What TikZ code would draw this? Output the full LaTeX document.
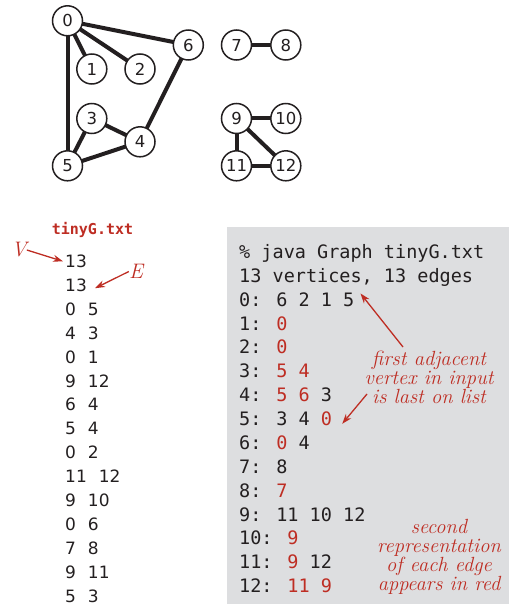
\documentclass[tikz,border=0pt]{standalone}
\usepackage{fontspec}
\newfontfamily\gsans{DejaVu Sans}
\newfontfamily\gmono{DejaVu Sans Mono}
\usetikzlibrary{arrows.meta}
\definecolor{bookred}{RGB}{190,45,35}
\definecolor{boxgray}{RGB}{221,222,224}
\definecolor{ink}{RGB}{35,31,32}
\pgfdeclarelayer{bg}
\pgfsetlayers{bg,main}
\newcommand{\rd}[1]{\textcolor{bookred}{#1}}
\begin{document}
\begin{tikzpicture}[x=1pt,y=-1pt,
  vtx/.style={circle,draw=ink,line width=1.5pt,fill=white,minimum size=30pt,inner sep=0pt,
    text=ink,font=\gsans\fontsize{16.5}{18}\selectfont},
  edge/.style={draw=ink,line width=4pt},
  listline/.style={anchor=base west,inner sep=0pt,text=ink,font=\gsans\fontsize{17}{19}\selectfont},
  boxline/.style={anchor=base west,inner sep=0pt,text=ink,font=\gmono\fontsize{18.5}{20}\selectfont},
  ann/.style={align=center,inner sep=0pt,text=bookred,font=\fontsize{20.5}{19}\selectfont\itshape},
  lbl/.style={inner sep=0pt,text=bookred,font=\fontsize{21}{22}\selectfont\itshape},
  redarrow/.style={draw=bookred,line width=1.3pt,-{Stealth[length=10pt,width=7pt]}}
]
\useasboundingbox (0,0) rectangle (512,607);

% graph
\node[vtx] (n0) at (67.5,20.8) {0};
\node[vtx] (n1) at (91.8,69) {1};
\node[vtx] (n2) at (140,69) {2};
\node[vtx] (n3) at (91.8,118.5) {3};
\node[vtx] (n4) at (140,141.8) {4};
\node[vtx] (n5) at (67.5,165.8) {5};
\node[vtx] (n6) at (188.3,45) {6};
\node[vtx] (n7) at (236.5,45) {7};
\node[vtx] (n8) at (285.8,45) {8};
\node[vtx] (n9) at (236.5,118.5) {9};
\node[vtx] (n10) at (285.8,118.5) {10};
\node[vtx] (n11) at (236.5,165.8) {11};
\node[vtx] (n12) at (285.8,165.8) {12};
\begin{pgfonlayer}{bg}
\foreach \u/\v in {0/5,4/3,0/1,9/12,6/4,5/4,0/2,11/12,9/10,0/6,7/8,9/11,5/3}
  \draw[edge] (n\u.center) -- (n\v.center);
\end{pgfonlayer}

% input file
\node[inner sep=0pt,text=bookred,font=\gmono\bfseries\fontsize{15}{17}\selectfont] (fname) at (92.5,230) {tinyG.txt};
\node[listline] (l1) at (65,267.5) {13};
\node[listline] (l2) at (65,291.4) {13};
\foreach \a/\b [count=\i from 3] in {0/5,4/3,0/1,9/12,6/4,5/4,0/2,11/12,9/10,0/6,7/8,9/11,5/3}
  \node[listline] (l\i) at (65,{267.5+23.9*(\i-1)}) {\a\hspace{12pt}\b};
\node[lbl] (V) at (19,250) {V};
\node[lbl] (E) at (136,271.5) {E};
\draw[redarrow] (V.east) -- ([xshift=-2pt]l1.west);
\draw[redarrow] (E.west) -- ([xshift=8pt,yshift=-3pt]l2.east);

% output box
\fill[boxgray] (227,227) rectangle (509,604);
\node[boxline] (b0) at (239,258.5) {\% java Graph tinyG.txt};
\node[boxline] (b1) at (239,282.4) {13 vertices, 13 edges};
\node[boxline] (b2) at (239,306.2) {0: 6 2 1 5};
\node[boxline] (b3) at (239,330.1) {1: \rd{0}};
\node[boxline] (b4) at (239,353.9) {2: \rd{0}};
\node[boxline] (b5) at (239,377.8) {3: \rd{5 4}};
\node[boxline] (b6) at (239,401.7) {4: \rd{5 6} 3};
\node[boxline] (b7) at (239,425.5) {5: 3 4 \rd{0}};
\node[boxline] (b8) at (239,449.4) {6: \rd{0} 4};
\node[boxline] (b9) at (239,473.2) {7: 8};
\node[boxline] (b10) at (239,497.1) {8: \rd{7}};
\node[boxline] (b11) at (239,521) {9: 11 10 12};
\node[boxline] (b12) at (239,544.8) {10: \rd{9}};
\node[boxline] (b13) at (239,568.7) {11: \rd{9} 12};
\node[boxline] (b14) at (239,592.5) {12: \rd{11 9}};

\node[ann] (a1) at (429,377) {first adjacent\\vertex in input\\is last on list};
\node[ann] (a2) at (439,557) {second\\representation\\of each edge\\appears in red};
\coordinate (a1s) at (403,347);
\coordinate (a1t) at (367,394);
\draw[redarrow] (a1s) -- ([xshift=6pt,yshift=6pt]b2.east);
\draw[redarrow] (a1t) -- ([xshift=10pt,yshift=-5pt]b7.east);
\end{tikzpicture}
\end{document}
